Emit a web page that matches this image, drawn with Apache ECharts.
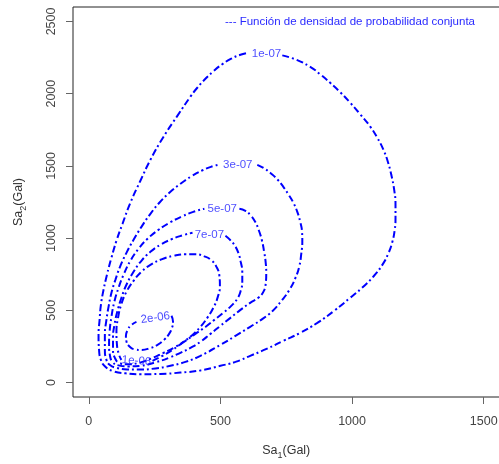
<!DOCTYPE html>
<html>
<head>
<meta charset="utf-8">
<script src="https://cdn.jsdelivr.net/npm/echarts@6/dist/echarts.min.js"></script>
<style>
  html, body { margin: 0; padding: 0; background: #ffffff; }
  #chart { width: 499px; height: 464px; }
</style>
</head>
<body>
<div id="chart"></div>
<script>
// Contour levels of the joint density f(Sa1, Sa2)
const levels = ['1e-07', '3e-07', '5e-07', '7e-07', '1e-06', '2e-06'];

// Each contour is traced as an open path; the gap between its two ends holds the level label.
const contour1e07 = [
  [735, 2265], [788, 2235], [841, 2186], [879, 2134], [917, 2075], [955, 2010],
  [993, 1937], [1031, 1857], [1069, 1772], [1096, 1694], [1119, 1612], [1137, 1522],
  [1149, 1438], [1160, 1334], [1165, 1231], [1165, 1141], [1162, 1057], [1152, 967],
  [1137, 891], [1115, 815], [1080, 732], [1038, 656], [993, 587], [932, 497],
  [868, 413], [803, 344], [739, 289], [675, 233], [613, 185], [557, 143], [500, 116],
  [424, 84], [348, 69], [272, 60], [196, 58], [139, 64], [94, 78], [63, 109],
  [46, 157], [39, 226], [37, 330], [41, 434], [46, 538], [56, 642], [69, 746],
  [86, 864], [105, 981], [128, 1099], [158, 1245], [196, 1397], [234, 1542],
  [284, 1702], [337, 1848], [386, 1979], [412, 2041], [443, 2103], [473, 2155],
  [507, 2204], [541, 2242], [576, 2269], [606, 2283]
];
const contour3e07 = [
  [640, 1507], [666, 1483], [689, 1452], [716, 1407], [739, 1355], [758, 1303],
  [777, 1245], [792, 1182], [803, 1113], [810, 1044], [811, 974], [807, 891],
  [800, 808], [785, 725], [762, 642], [732, 566], [698, 496], [660, 441], [613, 386],
  [557, 323], [500, 261], [424, 185], [367, 143], [310, 116], [253, 98], [196, 90],
  [147, 91], [105, 102], [79, 123], [67, 157], [61, 226], [61, 330], [67, 434],
  [75, 524], [86, 621], [101, 711], [120, 808], [143, 898], [170, 988], [200, 1078],
  [234, 1168], [268, 1245], [306, 1314], [348, 1376], [390, 1428], [432, 1470],
  [470, 1497], [500, 1511]
];
const contour5e07 = [
  [572, 1203], [595, 1189], [613, 1161], [632, 1113], [645, 1058], [657, 988],
  [666, 905], [672, 829], [674, 753], [672, 684], [663, 628], [644, 587], [613, 552],
  [576, 503], [538, 448], [500, 393], [462, 337], [424, 282], [386, 240], [348, 206],
  [310, 175], [253, 140], [196, 116], [151, 112], [113, 119], [90, 143], [80, 192],
  [77, 261], [79, 351], [86, 455], [97, 559], [113, 656], [132, 746], [158, 843],
  [189, 926], [223, 995], [265, 1058], [310, 1110], [355, 1151], [397, 1182],
  [439, 1203]
];
const contour7e07 = [
  [519, 1016], [538, 985], [555, 947], [568, 898], [577, 836], [583, 766], [583, 697],
  [577, 635], [564, 580], [541, 531], [511, 483], [477, 434], [443, 385], [405, 337],
  [367, 289], [329, 247], [284, 206], [234, 164], [189, 136], [147, 126], [116, 136],
  [99, 171], [92, 233], [92, 310], [97.5, 400], [109, 496], [124, 587], [143, 677],
  [170, 767], [200, 843], [234, 905], [272, 954], [314, 992], [356, 1019], [394, 1037]
];
const contour1e06 = [
  [242, 150], [280, 185], [318, 226], [355, 275], [394, 330], [424, 386], [450, 448],
  [473, 517], [490, 593], [498, 670], [496, 739], [485, 801], [466, 846], [439, 874],
  [405, 888], [367, 888], [321, 877], [276, 853], [234, 815], [200, 767], [170, 704],
  [143, 628], [124, 545], [111, 448], [105, 351], [107, 261], [115, 192], [124, 157]
];
const contour2e06 = [
  [314, 462], [320, 420], [316, 379], [305, 337], [286, 296], [261, 261], [231, 237],
  [200, 226], [174, 230], [154, 251], [143, 285], [141, 323], [147, 361], [160, 396],
  [181, 420]
];

// Where each level label sits along its contour, and its tilt (degrees)
const labelPoints = [[675, 2275], [566, 1507], [507, 1203], [458, 1023], [181, 150], [253, 448]];
const labelTilt = [0, 0, 0, 0, -4, 8];

// Axis ticks
const xTicks = [0, 500, 1000, 1500];
const yTicks = [0, 500, 1000, 1500, 2000, 2500];

const FONT = '"Liberation Sans", Arial, Helvetica, sans-serif';
const BLUE = '#0000ff';

const contours = [contour1e07, contour3e07, contour5e07, contour7e07, contour1e06, contour2e06];

const lineSeries = contours.map((pts, i) => ({
  name: levels[i],
  type: 'line',
  data: pts,
  smooth: 0.5,
  showSymbol: false,
  symbol: 'none',
  silent: true,
  lineStyle: { color: BLUE, width: 2, type: [7, 3, 2, 3] },
  z: 2
}));

const labelSeries = {
  type: 'scatter',
  symbolSize: 0,
  silent: true,
  z: 3,
  data: labelPoints.map((p, i) => ({
    value: p,
    label: {
      show: true,
      position: 'inside',
      formatter: levels[i],
      rotate: labelTilt[i],
      color: '#1c1cff',
      fontSize: 11.5,
      fontFamily: FONT
    }
  }))
};

const nameRich = {
  a: { fontSize: 12.5, lineHeight: 18, fontFamily: FONT, color: '#333' },
  s: { fontSize: 9, lineHeight: 9, verticalAlign: 'bottom', fontFamily: FONT, color: '#333' }
};

const plain = v => String(v);

const chart = echarts.init(document.getElementById('chart'), null, { renderer: 'canvas' });
chart.setOption({
  animation: false,
  backgroundColor: '#ffffff',
  grid: {
    left: 73, top: 7, right: -0.5, bottom: 67,
    show: true, borderColor: '#222', borderWidth: 1, backgroundColor: 'transparent',
    containLabel: false, outerBoundsMode: 'none'
  },
  xAxis: {
    type: 'value', min: -60, max: 1560,
    axisLine: { show: false, onZero: false },
    splitLine: { show: false },
    axisTick: { show: true, inside: false, length: 7, customValues: xTicks, lineStyle: { color: '#666', width: 1 } },
    axisLabel: { customValues: xTicks, formatter: plain, margin: 18.5, fontSize: 12.5, lineHeight: 13, color: '#444', fontFamily: FONT },
    name: '{a|Sa}{s|1}{a|(Gal)}',
    nameLocation: 'middle',
    nameGap: 45,
    nameTextStyle: { rich: nameRich }
  },
  yAxis: {
    type: 'value', min: -100, max: 2600,
    axisLine: { show: false, onZero: false },
    splitLine: { show: false },
    axisTick: { show: true, inside: false, length: 7, customValues: yTicks, lineStyle: { color: '#666', width: 1 } },
    axisLabel: { customValues: yTicks, formatter: plain, rotate: 90, margin: 15, fontSize: 12.5, lineHeight: 13, color: '#444', fontFamily: FONT },
    name: '{a|Sa}{s|2}{a|(Gal)}',
    nameLocation: 'middle',
    nameGap: 45,
    nameTextStyle: { rich: nameRich }
  },
  graphic: [{
    type: 'text',
    left: 225,
    top: 16,
    silent: true,
    style: {
      text: '--- Función de densidad de probabilidad conjunta',
      fill: '#2a2aff',
      font: '11.5px ' + FONT
    }
  }],
  series: lineSeries.concat([labelSeries])
});
</script>
</body>
</html>
